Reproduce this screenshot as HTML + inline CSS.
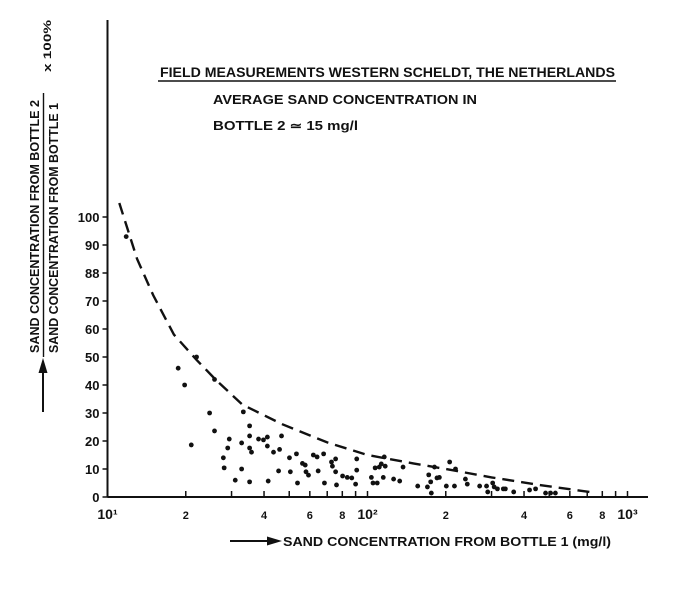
<!DOCTYPE html>
<html><head><meta charset="utf-8"><style>
body{margin:0;background:#fff;}
svg{display:block;font-family:"Liberation Sans",sans-serif;font-weight:bold;fill:#111;}
</style></head><body>
<svg id="chart" width="674" height="600" viewBox="0 0 674 600">
<g id="axes"></g>
<g id="curve"></g>
<g id="pts"></g>
<g>
<text x="160" y="77" font-size="13.5" textLength="455" lengthAdjust="spacingAndGlyphs">FIELD MEASUREMENTS WESTERN SCHELDT, THE NETHERLANDS</text>
<line x1="158" y1="81" x2="616" y2="81" stroke="#111" stroke-width="1.6"/>
<text x="213" y="104" font-size="12.5" textLength="264" lengthAdjust="spacingAndGlyphs">AVERAGE SAND CONCENTRATION IN</text>
<text x="213" y="130" font-size="12.5" textLength="145" lengthAdjust="spacingAndGlyphs">BOTTLE 2 ≃ 15 mg/l</text>
</g>
<g>
<text transform="translate(39,353) rotate(-90)" font-size="12.5" textLength="253" lengthAdjust="spacingAndGlyphs">SAND CONCENTRATION FROM BOTTLE 2</text>
<line x1="43.5" y1="357" x2="43.5" y2="93" stroke="#111" stroke-width="1.4"/>
<text transform="translate(58,353) rotate(-90)" font-size="12.5" textLength="250" lengthAdjust="spacingAndGlyphs">SAND CONCENTRATION FROM BOTTLE 1</text>
<text transform="translate(51,72) rotate(-90)" font-size="11" textLength="52" lengthAdjust="spacingAndGlyphs">x 100%</text>
<line x1="43" y1="412" x2="43" y2="370" stroke="#111" stroke-width="2"/>
<polygon points="43,358 38.5,373 47.5,373" fill="#111"/>
</g>
<g>
<line x1="230" y1="541" x2="268" y2="541" stroke="#111" stroke-width="2"/>
<polygon points="282,541 267,536.5 267,545.5" fill="#111"/>
<text x="283" y="546" font-size="12.5" textLength="328" lengthAdjust="spacingAndGlyphs">SAND CONCENTRATION FROM BOTTLE 1 (mg/l)</text>
</g>
</svg>
<script>
const xTickVals=[10,20,30,40,50,60,70,80,90,100,200,300,400,500,600,700,800,900,1000];
const xTickLabels=["10¹","2","","4","","6","","8","","10²","2","","4","","6","","8","","10³"];
const yTickVals=[0,10,20,30,40,50,60,70,80,90,100];
const yTickLabels=["0","10","20","30","40","50","60","70","88","90","100"];
const curveX=[11.1,13,15,18,22,26,33,47,70,100,150,200,300,460,600,740];
const curveY=[105,85,72,58,49,42,33,26,19.5,15,12,10,7,4.3,2.8,1.6];
const ptX=[11.8,18.7,19.8,22,21,25.8,24.7,25.8,27.9,28.1,29,29.4,31,33.3,32.8,32.8,35.2,35.2,35.2,35.8,35.2,38.1,39.8,41.2,41.2,41.5,43.5,46.7,45.9,45.5,50.1,50.5,53.3,53.8,56.2,57.6,58,59.3,61.9,64,64.6,67.8,68.3,72.7,73.3,75.4,75.4,76,80.2,83.6,87,90.9,90.9,90,103.5,105,109,107,111,113,116,117,115,126,133,137,156,172,175,170,176,181,185,189,207,218,201,216,238,242,270,287,290,303,307,316,333,339,365,420,443,484,506,528];
const ptY=[93,46,40,50,18.6,42,30,23.6,14,10.4,17.5,20.7,6,30.4,19.3,10,25.4,21.8,17.5,16,5.4,20.7,20.4,21.4,18.2,5.7,16,21.8,17,9.3,14,9,15.4,5,12,11.4,9,7.8,15,14.3,9.3,15.4,5,12.5,11,13.6,9,4.3,7.5,7,6.8,13.6,9.6,4.6,7,5,5,10.4,10.7,11.8,14.3,11,7,6.4,5.7,10.7,3.9,7.9,5.4,3.6,1.4,10.7,6.8,7,12.5,10,3.9,3.9,6.4,4.6,3.9,3.9,1.8,5,3.6,2.9,2.9,2.9,1.8,2.5,2.9,1.4,1.4,1.4];
const X0=107.5,DEC=260,Y0=497,YS=2.8;
function sx(v){return X0+DEC*Math.log10(v/10);}
function sy(v){return Y0-YS*v;}
const NS="http://www.w3.org/2000/svg";
function mk(t,a,p){const e=document.createElementNS(NS,t);for(const k in a)e.setAttribute(k,a[k]);p.appendChild(e);return e;}
const ax=document.getElementById('axes');
let yl=mk('line',{x1:X0,y1:20,x2:X0,y2:Y0,stroke:'#111','stroke-width':2},ax);


let xl=mk('line',{x1:X0,y1:Y0,x2:648,y2:Y0,stroke:'#111','stroke-width':2},ax);


yTickVals.forEach((v,i)=>{
 mk('line',{x1:X0-5,y1:sy(v),x2:X0,y2:sy(v),stroke:'#111','stroke-width':1.5},ax);
 const t=mk('text',{x:X0-8,y:sy(v)+5,'text-anchor':'end','font-size':13},ax);
 t.textContent=yTickLabels[i];
 
 
});
xTickVals.forEach((v,i)=>{
 mk('line',{x1:sx(v),y1:Y0,x2:sx(v),y2:Y0-6,stroke:'#111','stroke-width':1.5},ax);
 const lab=xTickLabels[i];
 if(!lab)return;
 const t=mk('text',{x:sx(v),y:Y0+22,'text-anchor':'middle','font-size':lab.length>1?14:11},ax);
 t.textContent=lab;
 
 
});
let d='';
curveX.forEach((v,i)=>{d+=(i?'L':'M')+sx(v).toFixed(1)+','+sy(curveY[i]).toFixed(1);});
const c=mk('path',{d:d,fill:'none',stroke:'#111','stroke-width':2.4,'stroke-dasharray':'12,7'},document.getElementById('curve'));


const pg=document.getElementById('pts');
ptX.forEach((v,i)=>{
 const p=mk('circle',{cx:sx(v),cy:sy(ptY[i]),r:2.4,fill:'#111'},pg);
 
 
});
</script>
</body></html>
